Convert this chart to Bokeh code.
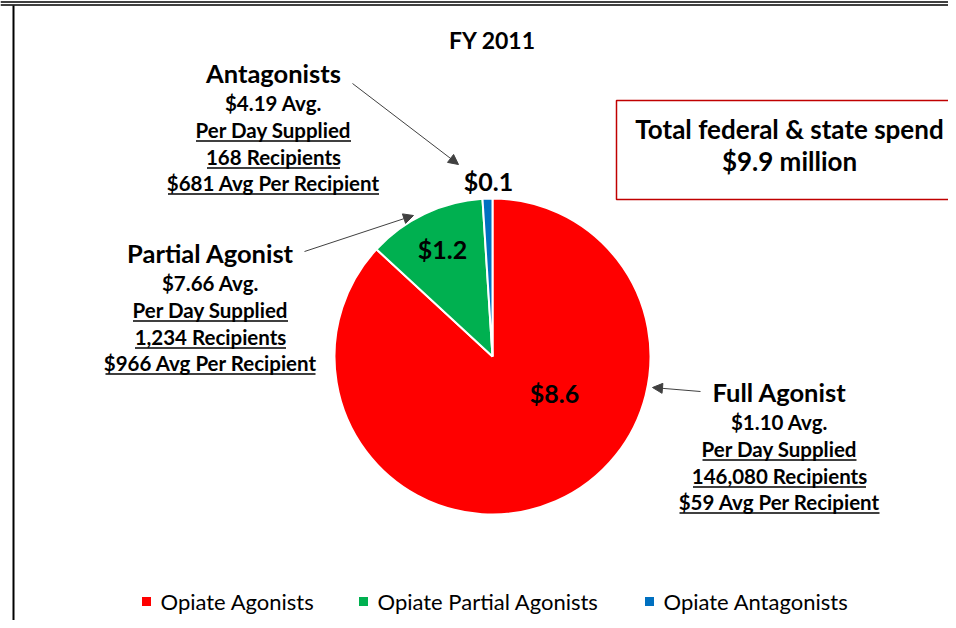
import numpy as np
from bokeh.plotting import figure
from bokeh.models import Range1d, Arrow, NormalHead, ColumnDataSource
from bokeh.core.properties import value
from bokeh.embed import file_html
from bokeh.resources import INLINE

# ---------------- data ----------------
title = "FY 2011"
categories = ["Opiate Agonists", "Opiate Partial Agonists", "Opiate Antagonists"]
spend = [8.6, 1.2, 0.1]  # $ million
slice_labels = ["$8.6", "$1.2", "$0.1"]
colors = ["#ff0000", "#00b050", "#0070c0"]
total_lines = ["Total federal & state spend", "$9.9 million"]

full_block = ["Full Agonist", "$1.10 Avg.", "Per Day Supplied", "146,080 Recipients", "$59 Avg Per Recipient"]
partial_block = ["Partial Agonist", "$7.66 Avg.", "Per Day Supplied", "1,234 Recipients", "$966 Avg Per Recipient"]
antag_block = ["Antagonists", "$4.19 Avg.", "Per Day Supplied", "168 Recipients", "$681 Avg Per Recipient"]

# ---------------- layout ----------------
W, H = 948, 620
FONT = value("Lato")


def X(px):
    return px


def Y(py):
    return H - py


p = figure(width=W, height=H, output_backend="svg", toolbar_location=None,
           x_range=Range1d(0, W), y_range=Range1d(0, H), min_border=0)
p.axis.visible = False
p.grid.visible = False
p.outline_line_color = None
p.background_fill_color = "white"
p.border_fill_color = "white"

# frame lines
p.segment(x0=[0, 0], y0=[Y(1.5), Y(4.5)], x1=[W, W], y1=[Y(1.5), Y(4.5)], line_color="black", line_width=1.5)
p.segment(x0=[X(13)], y0=[Y(5)], x1=[X(13)], y1=[0], line_color="black", line_width=2)

# title
p.text(x=[X(492)], y=[Y(39)], text=[title], text_font=FONT, text_font_style="bold",
       text_font_size="23px", text_align="center", text_baseline="middle", text_color="black")

# pie
cx, cy, R = X(492), Y(356), 158
vals = np.array(spend)
frac = vals / vals.sum()
cum = np.concatenate([[0], np.cumsum(frac)])
start = np.pi / 2 - 2 * np.pi * cum[:-1]
end = np.pi / 2 - 2 * np.pi * cum[1:]
src = ColumnDataSource(dict(start=start, end=end, color=colors, cat=categories))
p.wedge(x=cx, y=cy, radius=R, start_angle="start", end_angle="end", direction="clock",
        fill_color="color", line_color="white", line_width=2, source=src)

label_pos = [(554, 392), (442, 248), (488, 180)]
p.text(x=[X(a) for a, b in label_pos], y=[Y(b) for a, b in label_pos], text=slice_labels,
       text_font=FONT, text_font_style="bold", text_font_size="25px",
       text_align="center", text_baseline="middle", text_color="black")


def block(lines, xc, y0, underline_widths):
    ys = [y0, y0 + 30, y0 + 57, y0 + 84, y0 + 110]
    p.text(x=[X(xc)], y=[Y(ys[0])], text=[lines[0]], text_font=FONT, text_font_style="bold",
           text_font_size="25.5px", text_align="center", text_baseline="middle", text_color="black")
    p.text(x=[X(xc)] * 4, y=[Y(v) for v in ys[1:]], text=lines[1:], text_font=FONT,
           text_font_style="bold", text_font_size="20.5px", text_align="center",
           text_baseline="middle", text_color="black")
    for w, yy in zip(underline_widths, ys[2:]):
        p.segment(x0=[X(xc - w / 2)], x1=[X(xc + w / 2)], y0=[Y(yy + 11.5)], y1=[Y(yy + 11.5)],
                  line_color="black", line_width=1.5)


block(antag_block, 273, 72, [155, 133, 211])
block(partial_block, 210, 252, [155, 151, 210])
block(full_block, 779, 391, [154, 173, 200])

# arrows
arrows = [((352, 83), (458, 164)), ((304, 251), (413, 215)), ((700, 391), (652, 387))]
for (x0, y0), (x1, y1) in arrows:
    p.add_layout(Arrow(end=NormalHead(size=10, fill_color="#404040", line_color="#404040"),
                       x_start=X(x0), y_start=Y(y0), x_end=X(x1), y_end=Y(y1),
                       line_color="#404040", line_width=1))

# total box
p.quad(left=[X(616)], right=[W + 5], top=[Y(100)], bottom=[Y(199)], fill_color=None,
       line_color="#c00000", line_width=1.5)
p.text(x=[X(789), X(789)], y=[Y(128), Y(160)], text=total_lines, text_font=FONT,
       text_font_style="bold", text_font_size="26px", text_align="center",
       text_baseline="middle", text_color="black")

# legend
leg_sq_x = [146, 363, 649]
p.scatter(x=[X(v) for v in leg_sq_x], y=[Y(601)] * 3, marker="square", size=9,
          fill_color=colors, line_color=None)
p.text(x=[X(v + 14) for v in leg_sq_x], y=[Y(601)] * 3, text=categories, text_font=FONT,
       text_font_size="22px", text_align="left", text_baseline="middle", text_color="black")

open("out.html", "w").write(file_html(p, INLINE))
